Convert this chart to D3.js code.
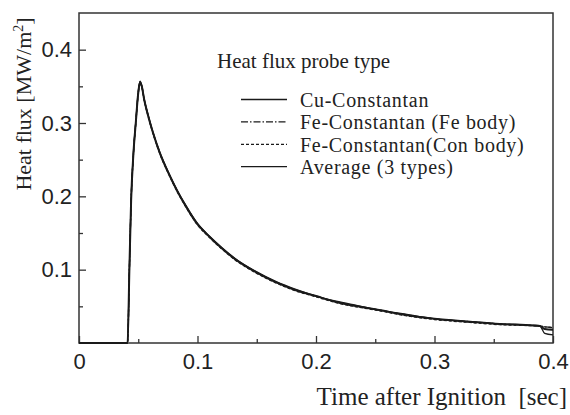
<!DOCTYPE html>
<html>
<head>
<meta charset="utf-8">
<script src="https://cdn.jsdelivr.net/npm/d3@7"></script>
<style>
  body { margin: 0; background: #fff; }
  .tick_lbl text { font-family: "Liberation Sans", Arial, sans-serif; font-size: 22px; fill: #222; }
  .serif { font-family: "Liberation Serif", "Times New Roman", serif; fill: #222; }
</style>
</head>
<body>
<div id="heat_flux_chart"></div>
<script>
////
// DATA
////
var time_sec = [0, 0.02, 0.041, 0.0425, 0.044, 0.046, 0.048, 0.050, 0.0515, 0.053, 0.055, 0.058, 0.062, 0.068, 0.076, 0.083, 0.090, 0.100, 0.110, 0.120, 0.132, 0.150, 0.166, 0.183, 0.200, 0.217, 0.235, 0.250, 0.273, 0.300, 0.330, 0.355, 0.383, 0.389, 0.393, 0.400];

var cu_constantan = [0, 0, 0, 0.100, 0.196, 0.262, 0.303, 0.343, 0.357, 0.351, 0.333, 0.313, 0.290, 0.261, 0.231, 0.208, 0.188, 0.163, 0.146, 0.131, 0.115, 0.097, 0.084, 0.073, 0.064, 0.057, 0.051, 0.046, 0.040, 0.033, 0.029, 0.026, 0.024, 0.023, 0.013, 0.011];
var fe_constantan_fe = [0, 0, 0, 0.098, 0.195, 0.260, 0.302, 0.341, 0.356, 0.350, 0.332, 0.312, 0.289, 0.260, 0.230, 0.207, 0.187, 0.162, 0.145, 0.130, 0.114, 0.096, 0.083, 0.072, 0.064, 0.056, 0.050, 0.046, 0.039, 0.033, 0.029, 0.026, 0.024, 0.0235, 0.022, 0.021];
var fe_constantan_con = [0, 0, 0, 0.099, 0.194, 0.259, 0.301, 0.340, 0.355, 0.349, 0.331, 0.311, 0.288, 0.259, 0.229, 0.206, 0.186, 0.161, 0.144, 0.129, 0.113, 0.095, 0.082, 0.071, 0.063, 0.055, 0.049, 0.045, 0.038, 0.032, 0.028, 0.025, 0.0235, 0.023, 0.022, 0.021];
var average_3 = [0, 0, 0, 0.099, 0.195, 0.260, 0.302, 0.341, 0.356, 0.350, 0.332, 0.312, 0.289, 0.260, 0.230, 0.207, 0.187, 0.162, 0.145, 0.130, 0.114, 0.096, 0.083, 0.072, 0.064, 0.056, 0.050, 0.046, 0.039, 0.033, 0.029, 0.026, 0.024, 0.0233, 0.019, 0.018];

var series_names = ["Cu-Constantan", "Fe-Constantan (Fe body)", "Fe-Constantan(Con body)", "Average (3 types)"];
var series_values = [cu_constantan, fe_constantan_fe, fe_constantan_con, average_3];
var series_dash = [null, "7,2,1.5,2", "3,2", null];

var x_major_ticks = [0, 0.1, 0.2, 0.3, 0.4];
var x_minor_ticks = [0.05, 0.15, 0.25, 0.35];
var y_major_ticks = [0.1, 0.2, 0.3, 0.4];
var y_minor_ticks = [0.05, 0.15, 0.25, 0.35];

////
// CONTAINER
////
const margin = { top: 13, right: 17, bottom: 72, left: 79 },
    width = 570 - margin.left - margin.right,
    height = 415 - margin.top - margin.bottom;

const root = d3.select("#heat_flux_chart")
    .append("svg")
    .attr("width", 570)
    .attr("height", 415);

const svg = root.append("g")
    .attr("transform", `translate(${margin.left}, ${margin.top})`);

var x = d3.scaleLinear().domain([0, 0.4]).range([0, width]);
var y = d3.scaleLinear().domain([0, 0.45]).range([height, 0]);

// axes, ticks pointing inward
var x_axis = svg.append("g")
    .attr("class", "tick_lbl")
    .attr("transform", "translate(0," + height + ")")
    .call(d3.axisBottom(x).tickValues(x_major_ticks).tickSize(-7).tickPadding(10)
        .tickFormat(d => d === 0 ? "0" : d.toFixed(1)));

svg.append("g")
    .attr("transform", "translate(0," + height + ")")
    .call(d3.axisBottom(x).tickValues(x_minor_ticks).tickSize(-4).tickFormat(""));

var y_axis = svg.append("g")
    .attr("class", "tick_lbl")
    .call(d3.axisLeft(y).tickValues(y_major_ticks).tickSize(-7).tickPadding(7)
        .tickFormat(d => d.toFixed(1)));

svg.append("g")
    .call(d3.axisLeft(y).tickValues(y_minor_ticks).tickSize(-4).tickFormat(""));

svg.selectAll(".domain").remove();
svg.selectAll(".tick line").attr("stroke", "#333").attr("stroke-width", 1.3);
x_axis.selectAll(".tick text").attr("dy", "0.71em");

// frame
svg.append("rect")
    .attr("x", 0).attr("y", 0)
    .attr("width", width).attr("height", height)
    .attr("fill", "none")
    .attr("stroke", "#333")
    .attr("stroke-width", 1.5);

////
// CURVES
////
var line = d3.line()
    .x((d, i) => x(time_sec[i]))
    .y(d => y(d))
    .curve(d3.curveMonotoneX);

svg.selectAll(".flux_line")
    .data(series_values)
    .enter()
    .append("path")
    .attr("class", "flux_line")
    .attr("d", d => line(d))
    .attr("fill", "none")
    .attr("stroke", "#1a1a1a")
    .attr("stroke-width", (d, i) => i === 3 ? 2 : 1.3)
    .attr("stroke-dasharray", (d, i) => series_dash[i]);

////
// LEGEND
////
svg.append("text")
    .attr("class", "serif")
    .attr("x", 217 - margin.left)
    .attr("y", 68 - margin.top)
    .style("font-size", "21px")
    .text("Heat flux probe type");

var legend_enter = svg.selectAll(".legend_row")
    .data(series_names)
    .enter()
    .append("g")
    .attr("class", "legend_row")
    .attr("transform", (d, i) => `translate(${241 - margin.left}, ${99.5 - margin.top + i * 22.4})`);

legend_enter.append("line")
    .attr("x1", 0).attr("x2", 46)
    .attr("stroke", "#1a1a1a")
    .attr("stroke-width", 1.3)
    .attr("stroke-dasharray", (d, i) => series_dash[i]);

legend_enter.append("text")
    .attr("class", "serif")
    .attr("x", 59)
    .attr("y", 7.5)
    .style("font-size", "20px")
    .style("letter-spacing", "0.7px")
    .text(d => d);

////
// AXIS TITLES
////
root.append("text")
    .attr("class", "serif")
    .attr("text-anchor", "end")
    .attr("x", 567)
    .attr("y", 405)
    .style("font-size", "25px")
    .text("Time after Ignition \u00a0[sec]");

var y_title = root.append("text")
    .attr("class", "serif")
    .attr("text-anchor", "middle")
    .attr("transform", "translate(31,104) rotate(-90)")
    .style("font-size", "22px");
y_title.append("tspan").text("Heat flux [MW/m");
y_title.append("tspan").attr("dy", -8).style("font-size", "14px").text("2");
y_title.append("tspan").attr("dy", 8).text("]");
</script>
</body>
</html>
